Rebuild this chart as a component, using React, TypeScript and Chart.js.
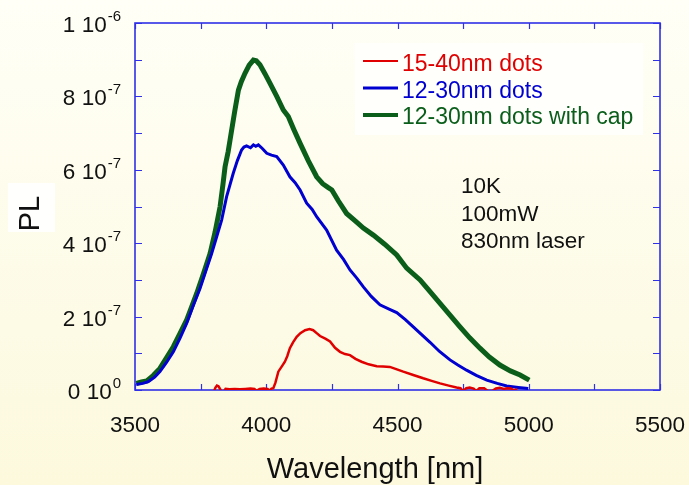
import React, { useEffect, useRef } from "react";
import { Chart, registerables } from "chart.js";

Chart.register(...registerables);

// ---- data (PL values in units of 1e-7) ----
const xTickValues = [3500, 4000, 4500, 5000, 5500];
const xMinorStep = 250;
const yTickValues = [0, 2, 4, 6, 8, 10];
const yTickMain = ["0 10", "2 10", "4 10", "6 10", "8 10", "1 10"];
const yTickExp = ["0", "-7", "-7", "-7", "-7", "-6"];
const xTitle = "Wavelength [nm]";
const yTitle = "PL";
const seriesNames = ["15-40nm dots", "12-30nm dots", "12-30nm dots with cap"];
const seriesColors = ["#e00000", "#0000d0", "#0a5e1a"];
const seriesWidths = [2.5, 3, 5];
const legendWidths = [2, 3, 4];
const noteLines = ["10K", "100mW", "830nm laser"];

const redX = [3800, 3806, 3812, 3818, 3824, 3830, 3838, 3845, 3860, 3880, 3900, 3920, 3940, 3955, 3962, 3975, 3990, 4005, 4012, 4020, 4027, 4035, 4046, 4060, 4071, 4080, 4090, 4102, 4116, 4130, 4148, 4165, 4179, 4192, 4205, 4225, 4243, 4262, 4281, 4300, 4319, 4340, 4363, 4390, 4421, 4445, 4471, 4495, 4522, 4560, 4598, 4630, 4662, 4695, 4725, 4740, 4750, 4762, 4775, 4790, 4800, 4812, 4830, 4845, 4860, 4875, 4890, 4905, 4918, 4932, 4945, 4955];
const redY = [-0.05, 0.06, 0.12, 0.10, 0.03, -0.05, -0.04, 0.03, 0.02, 0.03, 0.02, 0.03, 0.04, 0.03, -0.02, 0.03, 0.04, 0.03, -0.02, 0.04, 0.05, 0.20, 0.50, 0.65, 0.77, 0.92, 1.14, 1.30, 1.45, 1.55, 1.63, 1.66, 1.63, 1.55, 1.47, 1.40, 1.32, 1.15, 1.04, 0.98, 0.95, 0.85, 0.77, 0.70, 0.65, 0.64, 0.63, 0.57, 0.50, 0.41, 0.32, 0.25, 0.18, 0.12, 0.07, 0.05, -0.03, 0.05, 0.07, 0.04, -0.03, 0.05, 0.05, -0.03, -0.03, 0.04, 0.06, 0.03, 0.05, 0.04, -0.02, 0.03];

const blueX = [3505, 3530, 3551, 3575, 3595, 3620, 3646, 3672, 3697, 3722, 3748, 3770, 3792, 3810, 3830, 3849, 3874, 3890, 3906, 3915, 3925, 3940, 3951, 3960, 3970, 3985, 4002, 4020, 4040, 4065, 4090, 4110, 4129, 4154, 4175, 4192, 4230, 4268, 4295, 4319, 4345, 4370, 4400, 4433, 4470, 4497, 4530, 4560, 4590, 4624, 4660, 4700, 4730, 4763, 4800, 4840, 4880, 4916, 4960, 4998];
const blueY = [0.15, 0.18, 0.23, 0.35, 0.50, 0.75, 1.04, 1.42, 1.82, 2.30, 2.77, 3.25, 3.72, 4.15, 4.63, 5.27, 5.90, 6.25, 6.54, 6.62, 6.65, 6.60, 6.68, 6.64, 6.68, 6.58, 6.45, 6.40, 6.36, 6.13, 5.81, 5.65, 5.45, 5.09, 4.92, 4.72, 4.36, 3.81, 3.55, 3.27, 3.05, 2.81, 2.55, 2.32, 2.20, 2.11, 1.92, 1.72, 1.52, 1.30, 1.05, 0.82, 0.68, 0.54, 0.40, 0.27, 0.18, 0.11, 0.07, 0.04];

const greenX = [3505, 3525, 3545, 3570, 3595, 3620, 3646, 3672, 3697, 3715, 3735, 3760, 3786, 3805, 3824, 3835, 3843, 3855, 3862, 3880, 3894, 3905, 3919, 3935, 3951, 3962, 3976, 3995, 4014, 4040, 4065, 4084, 4105, 4129, 4160, 4192, 4215, 4235, 4250, 4275, 4306, 4340, 4370, 4408, 4450, 4497, 4535, 4586, 4624, 4662, 4700, 4738, 4775, 4814, 4850, 4890, 4930, 4967, 5002];
const greenY = [0.18, 0.22, 0.25, 0.40, 0.59, 0.88, 1.18, 1.55, 1.91, 2.25, 2.63, 3.15, 3.72, 4.30, 4.99, 5.60, 6.08, 6.50, 6.81, 7.60, 8.17, 8.40, 8.63, 8.85, 8.99, 8.97, 8.86, 8.62, 8.36, 8.00, 7.63, 7.45, 7.10, 6.72, 6.25, 5.81, 5.62, 5.52, 5.45, 5.15, 4.81, 4.60, 4.41, 4.22, 3.98, 3.68, 3.32, 3.00, 2.68, 2.36, 2.04, 1.72, 1.42, 1.14, 0.90, 0.68, 0.52, 0.41, 0.27];

const FONT = '"Liberation Sans", Arial, Helvetica, sans-serif';
const FRAME = "#3030e6";

function pts(xs: number[], ys: number[]) {
  return xs.map((x, i) => ({ x, y: ys[i] }));
}

const decorPlugin = {
  id: "decor",
  beforeDraw(chart: any) {
    const { ctx, width, height } = chart;
    ctx.save();
    const g = ctx.createLinearGradient(0, 0, 0, height);
    g.addColorStop(0, "#fffff7");
    g.addColorStop(1, "#fcf9dd");
    ctx.fillStyle = g;
    ctx.fillRect(0, 0, width, height);
    ctx.restore();
  },
  beforeDatasetsDraw(chart: any) {
    const { ctx, chartArea: a, scales } = chart;
    const xs = scales.x;
    const ys = scales.y;
    ctx.save();
    // ticks (inward on all four sides)
    ctx.strokeStyle = FRAME;
    ctx.lineWidth = 1.2;
    ctx.beginPath();
    for (let v = 3500; v <= 5500; v += xMinorStep) {
      const px = Math.round(xs.getPixelForValue(v)) + 0.5;
      ctx.moveTo(px, a.bottom);
      ctx.lineTo(px, a.bottom - 6);
      ctx.moveTo(px, a.top);
      ctx.lineTo(px, a.top + 6);
    }
    for (let v = 0; v <= 10; v += 1) {
      const py = Math.round(ys.getPixelForValue(v)) + 0.5;
      ctx.moveTo(a.left, py);
      ctx.lineTo(a.left + 7, py);
      ctx.moveTo(a.right, py);
      ctx.lineTo(a.right - 7, py);
    }
    ctx.stroke();
    // frame
    ctx.lineWidth = 1.6;
    ctx.strokeRect(a.left, a.top, a.right - a.left, a.bottom - a.top);

    // x tick labels
    ctx.fillStyle = "#111";
    ctx.font = `22.5px ${FONT}`;
    ctx.textAlign = "center";
    ctx.textBaseline = "alphabetic";
    xTickValues.forEach((v) => {
      ctx.fillText(String(v), xs.getPixelForValue(v), 432);
    });

    // y tick labels with superscripts
    yTickValues.forEach((v, i) => {
      const py = ys.getPixelForValue(v);
      ctx.font = `22.5px ${FONT}`;
      const wm = ctx.measureText(yTickMain[i]).width;
      ctx.font = `15px ${FONT}`;
      const we = ctx.measureText(yTickExp[i]).width;
      const right = 121;
      ctx.textAlign = "left";
      ctx.font = `22.5px ${FONT}`;
      ctx.fillText(yTickMain[i], right - we - wm - 1, py + 9);
      ctx.font = `15px ${FONT}`;
      ctx.fillText(yTickExp[i], right - we, py - 2);
    });

    // x axis title
    ctx.font = `29px ${FONT}`;
    ctx.textAlign = "center";
    ctx.fillText(xTitle, 375, 478);

    // y axis title with white box
    ctx.fillStyle = "#fffffd";
    ctx.fillRect(8, 183, 47, 49);
    ctx.save();
    ctx.translate(39, 213.5);
    ctx.rotate(-Math.PI / 2);
    ctx.fillStyle = "#111";
    ctx.font = `29px ${FONT}`;
    ctx.textAlign = "center";
    ctx.fillText(yTitle, 0, 0);
    ctx.restore();
    ctx.restore();
  },
  afterDatasetsDraw(chart: any) {
    const { ctx } = chart;
    ctx.save();
    // legend box
    ctx.fillStyle = "#fffffc";
    ctx.fillRect(355, 43, 288, 92);
    const ly = [61, 88, 115];
    const base = [71, 98, 124];
    seriesNames.forEach((n, i) => {
      ctx.strokeStyle = seriesColors[i];
      ctx.lineWidth = legendWidths[i];
      ctx.beginPath();
      ctx.moveTo(363, ly[i]);
      ctx.lineTo(398, ly[i]);
      ctx.stroke();
      ctx.fillStyle = seriesColors[i];
      ctx.font = `23px ${FONT}`;
      ctx.textAlign = "left";
      ctx.textBaseline = "alphabetic";
      ctx.fillText(n, 402, base[i]);
    });
    // annotation
    ctx.fillStyle = "#111";
    ctx.font = `22.5px ${FONT}`;
    const nb = [193, 221, 248];
    noteLines.forEach((t, i) => ctx.fillText(t, 461, nb[i]));
    ctx.restore();
  },
};

export default function App() {
  const ref = useRef<HTMLCanvasElement | null>(null);
  useEffect(() => {
    if (!ref.current) return;
    const clip = { left: 6, right: 6, top: 6, bottom: 0 };
    const chart = new Chart(ref.current, {
      type: "line",
      data: {
        datasets: [
          { label: seriesNames[0], data: pts(redX, redY), borderColor: seriesColors[0], borderWidth: seriesWidths[0], pointRadius: 0, tension: 0, clip },
          { label: seriesNames[1], data: pts(blueX, blueY), borderColor: seriesColors[1], borderWidth: seriesWidths[1], pointRadius: 0, tension: 0, clip },
          { label: seriesNames[2], data: pts(greenX, greenY), borderColor: seriesColors[2], borderWidth: seriesWidths[2], pointRadius: 0, tension: 0, clip },
        ],
      },
      options: {
        animation: false,
        responsive: false,
        devicePixelRatio: 1,
        layout: { padding: { left: 135, right: 29, top: 23, bottom: 95 } },
        plugins: { legend: { display: false }, tooltip: { enabled: false }, title: { display: false } },
        scales: {
          x: { type: "linear", min: 3500, max: 5500, display: false },
          y: { type: "linear", min: 0, max: 10, display: false },
        },
      },
      plugins: [decorPlugin],
    } as any);
    return () => chart.destroy();
  }, []);
  return (
    <div style={{ position: "absolute", left: 0, top: 0, width: 689, height: 485 }}>
      <canvas ref={ref} width={689} height={485} style={{ display: "block", width: 689, height: 485 }} />
    </div>
  );
}
